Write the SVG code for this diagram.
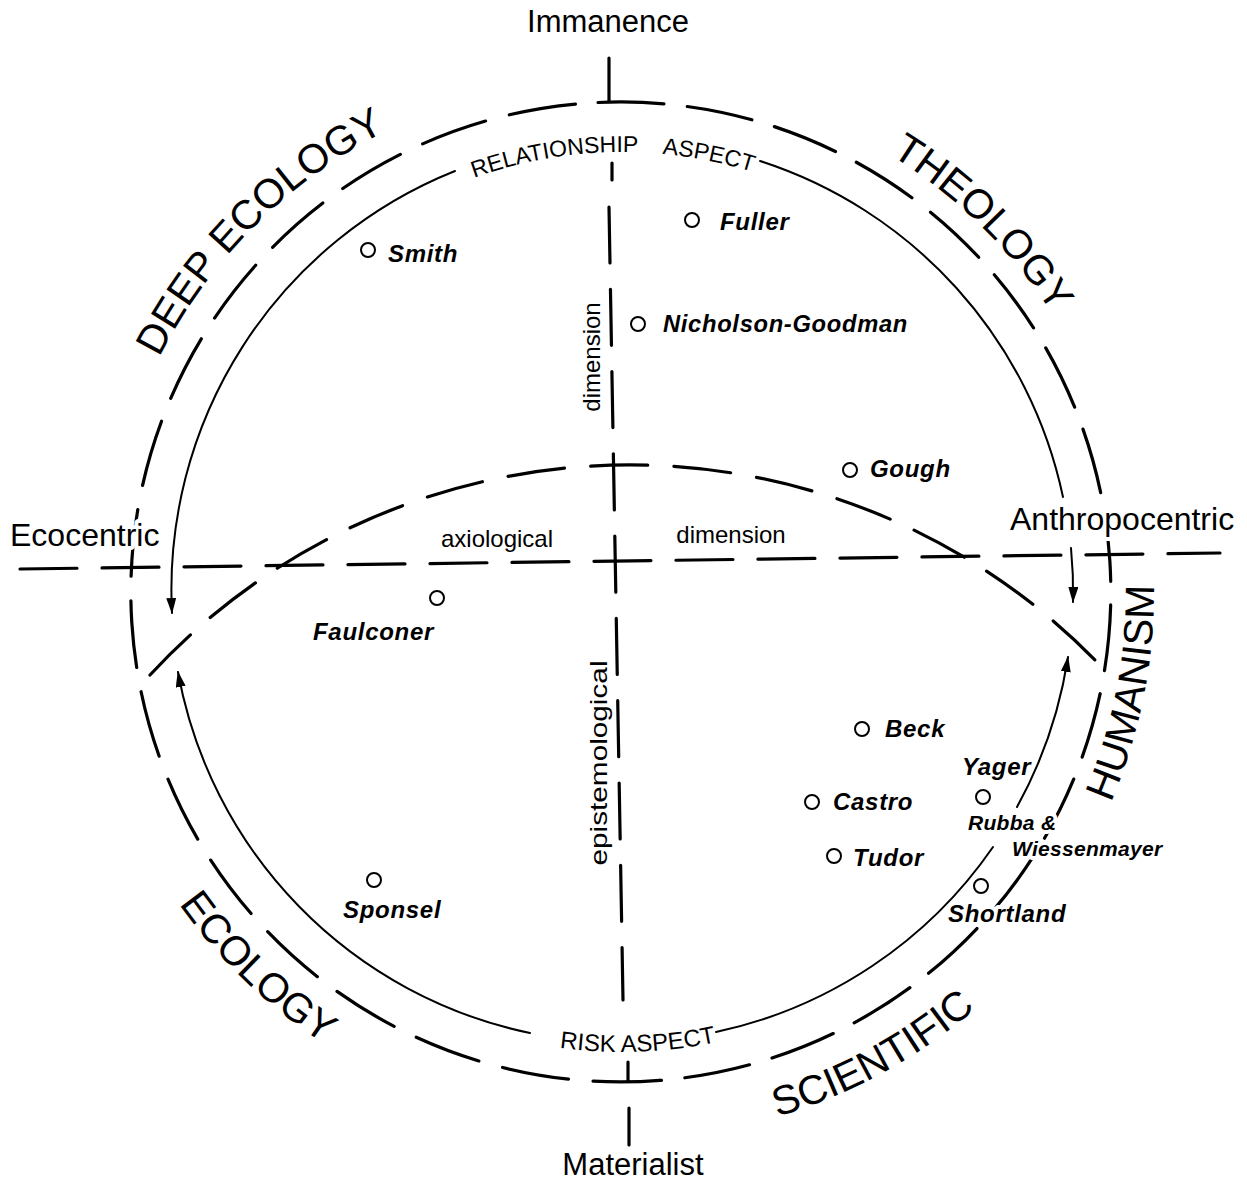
<svg xmlns="http://www.w3.org/2000/svg" width="1247" height="1183" viewBox="0 0 1247 1183">
<style>
.bg{fill:#fff}
.ln{fill:none;stroke:#000;stroke-linecap:round}
.big{font-family:"Liberation Sans",Arial,sans-serif;font-size:41px;fill:#000}
.pole{font-family:"Liberation Sans",Arial,sans-serif;font-size:31px;fill:#000}
.asp{font-family:"Liberation Sans",Arial,sans-serif;font-size:23px;fill:#000}
.dim{font-family:"Liberation Sans",Arial,sans-serif;font-size:24px;fill:#000}
.au{font-family:"Liberation Sans",Arial,sans-serif;font-size:24px;font-weight:bold;font-style:italic;letter-spacing:0.7px;fill:#000}
.sm{font-size:21px;letter-spacing:0.3px}
.halo{stroke:#fff;stroke-width:8px;stroke-linejoin:round;paint-order:stroke}
.pt{fill:none;stroke:#000;stroke-width:2}
</style>
<defs>
<marker id="ah" viewBox="0 0 16 10" refX="15" refY="5" markerWidth="16" markerHeight="10" markerUnits="userSpaceOnUse" orient="auto">
<path d="M0,0 L16,5 L0,10 z" fill="#000"/>
</marker>
<path id="pDeep" d="M104.97,546.94 A517,517 0 0 1 574.94,76.97"/>
<path id="pTheo" d="M660.33,79.58 A514,514 0 0 1 1131.64,542.73"/>
<path id="pHum" d="M954.24,1008.46 A534,534 0 0 0 1088.17,335.15"/>
<path id="pEco" d="M82.66,649.03 A540,540 0 0 0 582.33,1130.68"/>
<path id="pSci" d="M511.68,1129.19 A548,548 0 0 0 1130.22,791.95"/>
<path id="pRel" d="M292.27,301.69 A438,438 0 0 1 848.90,215.35"/>
<path id="pAsp" d="M411.66,205.81 A438,438 0 0 1 963.83,316.14"/>
<path id="pRisk" d="M337.56,954.06 A462,462 0 0 0 931.14,933.33"/>
</defs>
<rect class="bg" x="0" y="0" width="1247" height="1183"/>

<g id="connectors">
  <!-- outer dashed circle -->
  <path class="ln" stroke-width="3.2" stroke-dasharray="66 23.49" d="M598,102.5 A490,490 0 0 1 660,1080.4"/>
  <path class="ln" stroke-width="3.2" stroke-dasharray="67 24.62" d="M660,1080.4 A490,490 0 1 1 598,102.5"/>
  <!-- axiological arc -->
  <path class="ln" stroke-width="3.2" stroke-dasharray="57 26.3" d="M150,675 A652.5,652.5 0 0 1 1095,660"/>
  <!-- horizontal axis -->
  <path class="ln" stroke-width="3.2" stroke-dasharray="57 25" d="M20,569 L1220,553"/>
  <!-- vertical axis -->
  <path class="ln" stroke-width="3.2" d="M609,58 L609,101"/>
  <path class="ln" stroke-width="3.2" d="M612,163 L612,180"/>
  <path class="ln" stroke-width="3.2" stroke-dasharray="56 26.3" d="M609,207 L623,1000"/>
  <path class="ln" stroke-width="3.2" d="M628,1062 L628,1081"/>
  <path class="ln" stroke-width="3.2" d="M629,1108 L629,1145"/>
  <!-- inner arcs with arrows -->
  <path class="ln" stroke-width="2" marker-end="url(#ah)" d="M455,171 A451,451 0 0 0 172,613"/>
  <path class="ln" stroke-width="2" marker-end="url(#ah)" d="M530,1033 A451,451 0 0 1 178,672"/>
  <path class="ln" stroke-width="2" d="M760,161 A451,451 0 0 1 1063,497"/>
  <path class="ln" stroke-width="2" marker-end="url(#ah)" d="M1071,548 A451,451 0 0 1 1073,602"/>
  <path class="ln" stroke-width="2" d="M716,1032 A451,451 0 0 0 993,847"/>
  <path class="ln" stroke-width="2" marker-end="url(#ah)" d="M1017,807 A451,451 0 0 0 1068,657"/>
</g>

<g id="sectors">
  <text class="big"><textPath href="#pDeep" startOffset="50%" text-anchor="middle">DEEP ECOLOGY</textPath></text>
  <text class="big"><textPath href="#pTheo" startOffset="50%" text-anchor="middle">THEOLOGY</textPath></text>
  <text class="big"><textPath href="#pHum" startOffset="50%" text-anchor="middle">HUMANISM</textPath></text>
  <text class="big"><textPath href="#pEco" startOffset="50%" text-anchor="middle">ECOLOGY</textPath></text>
  <text class="big"><textPath href="#pSci" startOffset="50%" text-anchor="middle">SCIENTIFIC</textPath></text>
</g>

<g id="aspects">
  <text class="asp"><textPath href="#pRel" startOffset="50%" text-anchor="middle">RELATIONSHIP</textPath></text>
  <text class="asp"><textPath href="#pAsp" startOffset="50%" text-anchor="middle">ASPECT</textPath></text>
  <text class="asp" style="font-size:24px"><textPath href="#pRisk" startOffset="50%" text-anchor="middle">RISK ASPECT</textPath></text>
</g>

<g id="poles">
  <text class="pole" x="608" y="32" text-anchor="middle">Immanence</text>
  <text class="pole" x="633" y="1175" text-anchor="middle">Materialist</text>
  <text class="pole halo" x="10" y="546" style="font-size:32px">Ecocentric</text>
  <text class="pole halo" x="1010" y="530" style="font-size:32px">Anthropocentric</text>
</g>

<g id="dimensions">
  <text class="dim" x="497" y="547" text-anchor="middle">axiological</text>
  <text class="dim" x="731" y="543" text-anchor="middle">dimension</text>
  <text class="dim" transform="translate(600,357) rotate(-90)" text-anchor="middle">dimension</text>
  <text class="dim" transform="translate(607,763) rotate(-90)" text-anchor="middle" textLength="205" lengthAdjust="spacingAndGlyphs">epistemological</text>
</g>

<g id="smith"><circle class="pt" cx="368" cy="250" r="7"/><text class="au" x="388" y="262">Smith</text></g>
<g id="fuller"><circle class="pt" cx="692" cy="220" r="7"/><text class="au" x="720" y="230">Fuller</text></g>
<g id="nicholson-goodman"><circle class="pt" cx="638" cy="324" r="7"/><text class="au" x="663" y="332" textLength="245" lengthAdjust="spacingAndGlyphs">Nicholson-Goodman</text></g>
<g id="gough"><circle class="pt" cx="850" cy="470" r="7"/><text class="au" x="870" y="477">Gough</text></g>
<g id="faulconer"><circle class="pt" cx="437" cy="598" r="7"/><text class="au" x="313" y="640">Faulconer</text></g>
<g id="beck"><circle class="pt" cx="862" cy="729" r="7"/><text class="au" x="885" y="737">Beck</text></g>
<g id="castro"><circle class="pt" cx="812" cy="802" r="7"/><text class="au" x="833" y="810">Castro</text></g>
<g id="tudor"><circle class="pt" cx="834" cy="856" r="7"/><text class="au" x="853" y="866">Tudor</text></g>
<g id="yager-rubba"><text class="au" x="962" y="775">Yager</text><circle class="pt" cx="983" cy="797" r="7"/><text class="au sm halo" x="968" y="830">Rubba &amp;</text><text class="au sm halo" x="1012" y="856">Wiessenmayer</text></g>
<g id="shortland"><circle class="pt" cx="981" cy="886" r="7"/><text class="au halo" x="948" y="922">Shortland</text></g>
<g id="sponsel"><circle class="pt" cx="374" cy="880" r="7"/><text class="au" x="343" y="918">Sponsel</text></g>
</svg>
